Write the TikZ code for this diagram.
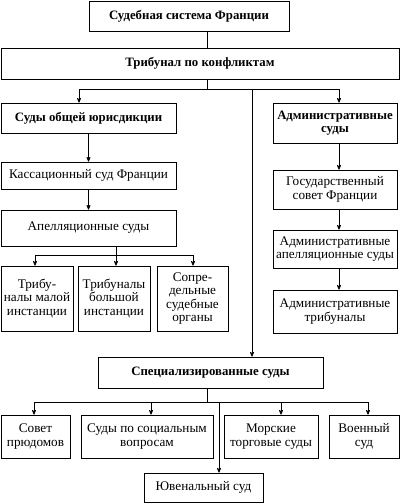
\documentclass[tikz,border=0pt]{standalone}
\usepackage{fontspec}
\setmainfont{Liberation Serif}
\usetikzlibrary{arrows}

\begin{document}
\begin{tikzpicture}[>=stealth',x=1pt,y=-1pt,line width=0.7pt,
        main node/.style={draw,align=center,inner sep=1pt,font=\fontsize{13.2}{13.5}\selectfont},
        head node/.style={main node,font=\fontsize{12.8}{13.5}\selectfont\bfseries}]
        \useasboundingbox (0,0) rectangle (400,503);
        % boxes
        \node[head node,minimum width=200,minimum height=30] (1) at (189,16) {Судебная система Франции};
        \node[head node,minimum width=398,minimum height=31] (2) at (200,63.5) {Трибунал по конфликтам};
        \node[head node,minimum width=175,minimum height=30] (3) at (88.5,118) {Суды общей юрисдикции};
        \node[head node,minimum width=124,minimum height=40] (4) at (335,123) {Административные\\суды};
        \node[main node,minimum width=175,minimum height=27] (5) at (88.5,175.5) {Кассационный суд Франции};
        \node[main node,minimum width=175,minimum height=36] (6) at (88.5,228) {Апелляционные суды};
        \node[main node,minimum width=72,minimum height=65] (7) at (37,298.5) {Трибу-\\налы малой\\инстанции};
        \node[main node,minimum width=72,minimum height=65] (8) at (114,298.5) {Трибуналы\\большой\\инстанции};
        \node[main node,minimum width=71,minimum height=65] (9) at (192.5,298.5) {Сопре-\\дельные\\судебные\\органы};
        \node[main node,minimum width=124,minimum height=39] (10) at (335,189.5) {Государственный\\совет Франции};
        \node[main node,minimum width=124,minimum height=38] (11) at (335,249) {Административные\\апелляционные суды};
        \node[main node,minimum width=124,minimum height=43] (12) at (335,311.5) {Административные\\трибуналы};
        \node[head node,minimum width=225,minimum height=31] (13) at (210.5,372.5) {Специализированные суды};
        \node[main node,minimum width=69,minimum height=43] (14) at (35.5,436.5) {Совет\\прюдомов};
        \node[main node,minimum width=132,minimum height=43] (15) at (147,436.5) {Суды по социальным\\вопросам};
        \node[main node,minimum width=94,minimum height=43] (16) at (271,436.5) {Морские\\торговые суды};
        \node[main node,minimum width=70,minimum height=43] (17) at (364,436.5) {Военный\\суд};
        \node[main node,minimum width=119,minimum height=29] (18) at (203.5,487.5) {Ювенальный суд};
        % branch points
        \coordinate (a) at (207,89);
        \coordinate (a1) at (79,89);
        \coordinate (a2) at (252,89);
        \coordinate (a3) at (339,89);
        \coordinate (b) at (116,255);
        \coordinate (b1) at (35,255);
        \coordinate (b2) at (193,255);
        \coordinate (c) at (207,402);
        \coordinate (c1) at (34,402);
        \coordinate (c2) at (151,402);
        \coordinate (c3) at (219,402);
        \coordinate (c4) at (281,402);
        \coordinate (c5) at (368,402);
        % connectors
        \draw (1.south -| a) -- (2.north -| a);
        \draw (2.south -| a) -- (a);
        \draw (a1) -- (a3);
        \draw[->] (a1) -- (3.north -| a1);
        \draw[->] (a2) -- (13.north -| a2);
        \draw[->] (a3) -- (4.north -| a3);
        \path[->] (3) edge (5)
                  (5) edge (6);
        \draw[->] (4.south -| a3) -- (10.north -| a3);
        \draw[->] (10.south -| a3) -- (11.north -| a3);
        \draw[->] (11.south -| a3) -- (12.north -| a3);
        \draw (6.south -| b) -- (b);
        \draw (b1) -- (b2);
        \draw[->] (b1) -- (7.north -| b1);
        \draw[->] (b) -- (8.north -| b);
        \draw[->] (b2) -- (9.north -| b2);
        \draw (13.south -| c) -- (c);
        \draw (c1) -- (c5);
        \draw[->] (c1) -- (14.north -| c1);
        \draw[->] (c2) -- (15.north -| c2);
        \draw[->] (c3) -- (18.north -| c3);
        \draw[->] (c4) -- (16.north -| c4);
        \draw[->] (c5) -- (17.north -| c5);
\end{tikzpicture}
\end{document}
